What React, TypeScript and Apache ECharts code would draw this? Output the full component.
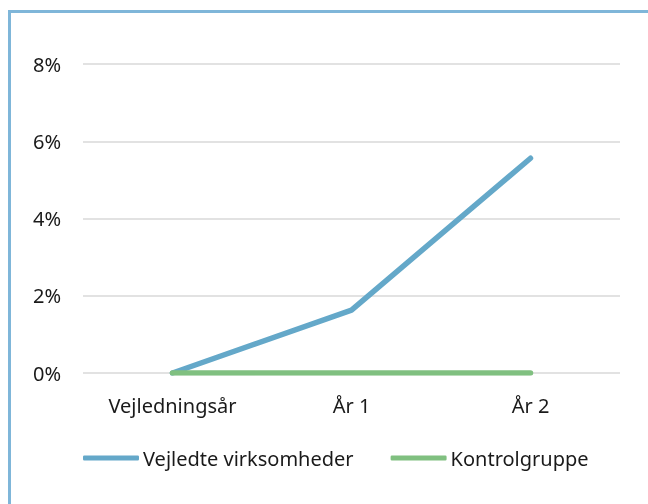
import React, { useEffect, useRef } from "react";
import * as echarts from "echarts";

const categories = ["Vejledningsår", "År 1", "År 2"];
const vejledte = [0, 1.63, 5.56];
const kontrol = [0, 0, 0];
const seriesNames = ["Vejledte virksomheder", "Kontrolgruppe"];
const yTicks = { min: 0, max: 8, interval: 2 };

const FONT = "'Noto Sans', 'Open Sans', sans-serif";

export default function App() {
  const ref = useRef<HTMLDivElement>(null);
  useEffect(() => {
    if (!ref.current) return;
    const chart = echarts.init(ref.current, undefined, { renderer: "svg" });
    chart.setOption({
      animation: false,
      backgroundColor: "transparent",
      textStyle: { fontFamily: FONT },
      grid: { left: 83, right: 28, top: 64, bottom: 131, containLabel: false },
      xAxis: {
        type: "category",
        data: categories,
        boundaryGap: true,
        axisLine: { show: false },
        axisTick: { show: false },
        axisLabel: { color: "#1a1a1a", fontSize: 20, margin: 22, fontFamily: FONT },
      },
      yAxis: {
        type: "value",
        min: yTicks.min,
        max: yTicks.max,
        interval: yTicks.interval,
        axisLine: { show: false },
        axisTick: { show: false },
        axisLabel: {
          color: "#1a1a1a",
          fontSize: 20,
          margin: 22,
          fontFamily: FONT,
          formatter: (v: number) => `${v}%`,
        },
        splitLine: { lineStyle: { color: "#d9d9d9", width: 1.5 } },
      },
      legend: {
        top: 443,
        left: 78,
        icon: "roundRect",
        itemWidth: 56,
        itemHeight: 5,
        itemGap: 37,
        textStyle: { color: "#1a1a1a", fontSize: 20, fontFamily: FONT, padding: [0, 0, 0, -1] },
        data: seriesNames,
      },
      series: [
        {
          name: seriesNames[0],
          type: "line",
          data: vejledte,
          symbol: "none",
          color: "#64a8c9",
          lineStyle: { width: 5.5, color: "#64a8c9", cap: "round", join: "round" },
          z: 3,
        },
        {
          name: seriesNames[1],
          type: "line",
          data: kontrol,
          symbol: "none",
          color: "#80c080",
          lineStyle: { width: 5.5, color: "#80c080", cap: "round", join: "round" },
          z: 4,
        },
      ],
    });
    return () => chart.dispose();
  }, []);
  return (
    <>
      <div
        style={{
          position: "fixed",
          left: 8,
          top: 10,
          width: 700,
          height: 600,
          border: "3px solid #7fb6d9",
          boxSizing: "border-box",
        }}
      />
      <div
        ref={ref}
        style={{ position: "fixed", left: 0, top: 0, width: 648, height: 504 }}
      />
    </>
  );
}
